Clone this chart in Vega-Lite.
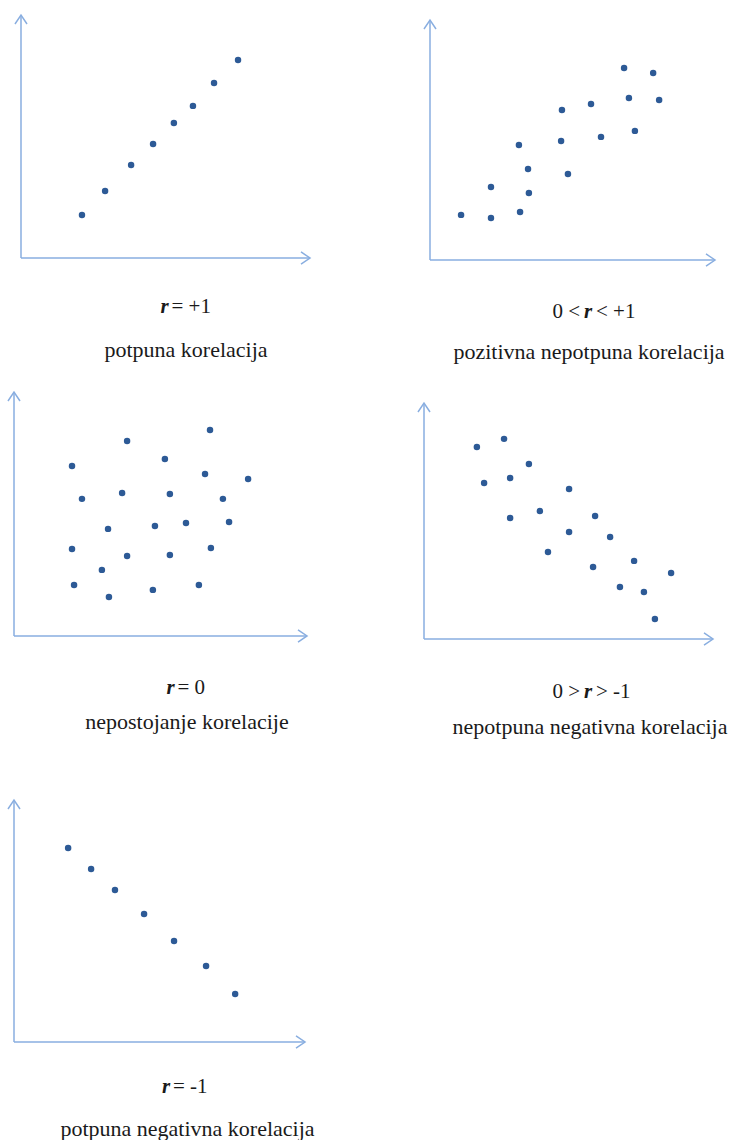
{
  "$schema": "https://vega.github.io/schema/vega-lite/v6.json",
  "background": "white",
  "padding": {"left": 4, "top": 5, "right": 0, "bottom": 0},
  "columns": 2,
  "spacing": {"row": 132, "column": 114},
  "bounds": "flush",
  "config": {
    "view": {"stroke": null},
    "text": {"font": "Liberation Serif", "fontSize": 21, "fill": "#1a1a1a", "baseline": "alphabetic"}
  },
  "datasets": {
    "one": [{}],
    "p1": [
      {"x": 2.11, "y": 1.77}, {"x": 2.91, "y": 2.76}, {"x": 3.81, "y": 3.83}, {"x": 4.57, "y": 4.69},
      {"x": 5.29, "y": 5.56}, {"x": 5.95, "y": 6.26}, {"x": 6.68, "y": 7.20}, {"x": 7.51, "y": 8.15}
    ],
    "p2": [
      {"x": 1.09, "y": 1.88}, {"x": 2.14, "y": 1.75}, {"x": 2.14, "y": 3.04}, {"x": 3.16, "y": 2.00},
      {"x": 3.47, "y": 2.79}, {"x": 3.44, "y": 3.79}, {"x": 3.12, "y": 4.79}, {"x": 4.60, "y": 4.96},
      {"x": 4.84, "y": 3.58}, {"x": 4.63, "y": 6.25}, {"x": 5.65, "y": 6.50}, {"x": 6.00, "y": 5.13},
      {"x": 6.81, "y": 8.00}, {"x": 6.98, "y": 6.75}, {"x": 7.19, "y": 5.38}, {"x": 7.83, "y": 7.79},
      {"x": 8.04, "y": 6.67}
    ],
    "p3": [
      {"x": 1.98, "y": 6.97}, {"x": 3.86, "y": 7.99}, {"x": 6.69, "y": 8.44}, {"x": 5.15, "y": 7.25},
      {"x": 6.52, "y": 6.64}, {"x": 7.99, "y": 6.43}, {"x": 2.32, "y": 5.62}, {"x": 3.69, "y": 5.86},
      {"x": 5.32, "y": 5.82}, {"x": 7.13, "y": 5.62}, {"x": 3.21, "y": 4.39}, {"x": 4.81, "y": 4.51},
      {"x": 5.87, "y": 4.63}, {"x": 7.34, "y": 4.67}, {"x": 1.98, "y": 3.57}, {"x": 3.86, "y": 3.28},
      {"x": 5.32, "y": 3.32}, {"x": 6.72, "y": 3.61}, {"x": 3.00, "y": 2.71}, {"x": 2.05, "y": 2.09},
      {"x": 3.24, "y": 1.60}, {"x": 4.74, "y": 1.89}, {"x": 6.31, "y": 2.09}
    ],
    "p4": [
      {"x": 1.83, "y": 8.14}, {"x": 2.77, "y": 8.48}, {"x": 3.63, "y": 7.42}, {"x": 2.08, "y": 6.61},
      {"x": 2.98, "y": 6.82}, {"x": 5.02, "y": 6.36}, {"x": 2.98, "y": 5.13}, {"x": 4.01, "y": 5.42},
      {"x": 5.92, "y": 5.21}, {"x": 5.02, "y": 4.53}, {"x": 6.44, "y": 4.32}, {"x": 4.29, "y": 3.69},
      {"x": 7.27, "y": 3.31}, {"x": 5.85, "y": 3.05}, {"x": 8.55, "y": 2.80}, {"x": 6.78, "y": 2.20},
      {"x": 7.61, "y": 1.99}, {"x": 7.99, "y": 0.85}
    ],
    "p5": [
      {"x": 1.86, "y": 8.02}, {"x": 2.65, "y": 7.15}, {"x": 3.47, "y": 6.28}, {"x": 4.47, "y": 5.29},
      {"x": 5.50, "y": 4.17}, {"x": 6.60, "y": 3.14}, {"x": 7.60, "y": 1.98}
    ]
  },
  "concat": [
    {
      "width": 306, "height": 255,
      "layer": [
        {"data": {"name": "p1"}, "mark": {"type": "point", "shape": "circle", "filled": true, "size": 42, "color": "#2d5a96", "opacity": 1},
         "encoding": {"x": {"field": "x", "type": "quantitative", "axis": null, "scale": {"domain": [-0.5882, 10], "nice": false, "zero": false}},
                      "y": {"field": "y", "type": "quantitative", "axis": null, "scale": {"domain": [-0.0823, 10.4115], "nice": false, "zero": false}}}},
        {"data": {"name": "one"}, "mark": {"type": "rule", "color": "#89aee0", "strokeWidth": 1.5},
         "encoding": {"x": {"datum": 0, "type": "quantitative", "axis": null}, "x2": {"datum": 10}, "y": {"datum": 0, "type": "quantitative", "axis": null}}},
        {"data": {"name": "one"}, "mark": {"type": "rule", "color": "#89aee0", "strokeWidth": 1.5},
         "encoding": {"x": {"datum": 0, "type": "quantitative", "axis": null}, "y": {"datum": 0, "type": "quantitative", "axis": null}, "y2": {"datum": 10}}},
        {"data": {"name": "one"}, "mark": {"type": "point", "shape": "M-1,-0.667L0,0L-1,0.667", "size": 324, "filled": false, "color": "#89aee0", "strokeWidth": 1.5, "opacity": 1},
         "encoding": {"x": {"datum": 10, "type": "quantitative", "axis": null}, "y": {"datum": 0, "type": "quantitative", "axis": null}}},
        {"data": {"name": "one"}, "mark": {"type": "point", "shape": "M-0.667,1L0,0L0.667,1", "size": 324, "filled": false, "color": "#89aee0", "strokeWidth": 1.5, "opacity": 1},
         "encoding": {"x": {"datum": 0, "type": "quantitative", "axis": null}, "y": {"datum": 10, "type": "quantitative", "axis": null}}},
        {"data": {"name": "one"}, "mark": {"type": "text", "text": "r", "fontStyle": "italic", "fontWeight": "bold", "align": "center"},
         "encoding": {"x": {"datum": 4.965, "type": "quantitative", "axis": null}, "y": {"datum": -2.263, "type": "quantitative", "axis": null}}},
        {"data": {"name": "one"}, "mark": {"type": "text", "text": "= +1", "align": "left", "dx": 7},
         "encoding": {"x": {"datum": 4.965, "type": "quantitative", "axis": null}, "y": {"datum": -2.263, "type": "quantitative", "axis": null}}},
        {"data": {"name": "one"}, "mark": {"type": "text", "text": "potpuna korelacija", "align": "center", "fontSize": 22},
         "encoding": {"x": {"datum": 5.709, "type": "quantitative", "axis": null}, "y": {"datum": -4.074, "type": "quantitative", "axis": null}}}
      ]
    },
    {
      "width": 291, "height": 255,
      "layer": [
        {"data": {"name": "p2"}, "mark": {"type": "point", "shape": "circle", "filled": true, "size": 42, "color": "#2d5a96", "opacity": 1},
         "encoding": {"x": {"field": "x", "type": "quantitative", "axis": null, "scale": {"domain": [-0.2105, 10], "nice": false, "zero": false}},
                      "y": {"field": "y", "type": "quantitative", "axis": null, "scale": {"domain": [0, 10.625], "nice": false, "zero": false}}}},
        {"data": {"name": "one"}, "mark": {"type": "rule", "color": "#89aee0", "strokeWidth": 1.5},
         "encoding": {"x": {"datum": 0, "type": "quantitative", "axis": null}, "x2": {"datum": 10}, "y": {"datum": 0, "type": "quantitative", "axis": null}}},
        {"data": {"name": "one"}, "mark": {"type": "rule", "color": "#89aee0", "strokeWidth": 1.5},
         "encoding": {"x": {"datum": 0, "type": "quantitative", "axis": null}, "y": {"datum": 0, "type": "quantitative", "axis": null}, "y2": {"datum": 10}}},
        {"data": {"name": "one"}, "mark": {"type": "point", "shape": "M-1,-0.667L0,0L-1,0.667", "size": 324, "filled": false, "color": "#89aee0", "strokeWidth": 1.5, "opacity": 1},
         "encoding": {"x": {"datum": 10, "type": "quantitative", "axis": null}, "y": {"datum": 0, "type": "quantitative", "axis": null}}},
        {"data": {"name": "one"}, "mark": {"type": "point", "shape": "M-0.667,1L0,0L0.667,1", "size": 324, "filled": false, "color": "#89aee0", "strokeWidth": 1.5, "opacity": 1},
         "encoding": {"x": {"datum": 0, "type": "quantitative", "axis": null}, "y": {"datum": 10, "type": "quantitative", "axis": null}}},
        {"data": {"name": "one"}, "mark": {"type": "text", "text": "0 <", "align": "right", "dx": -8},
         "encoding": {"x": {"datum": 5.544, "type": "quantitative", "axis": null}, "y": {"datum": -2.417, "type": "quantitative", "axis": null}}},
        {"data": {"name": "one"}, "mark": {"type": "text", "text": "r", "fontStyle": "italic", "fontWeight": "bold", "align": "center"},
         "encoding": {"x": {"datum": 5.544, "type": "quantitative", "axis": null}, "y": {"datum": -2.417, "type": "quantitative", "axis": null}}},
        {"data": {"name": "one"}, "mark": {"type": "text", "text": "< +1", "align": "left", "dx": 8},
         "encoding": {"x": {"datum": 5.544, "type": "quantitative", "axis": null}, "y": {"datum": -2.417, "type": "quantitative", "axis": null}}},
        {"data": {"name": "one"}, "mark": {"type": "text", "text": "pozitivna nepotpuna korelacija", "align": "center", "fontSize": 22},
         "encoding": {"x": {"datum": 5.579, "type": "quantitative", "axis": null}, "y": {"datum": -4.125, "type": "quantitative", "axis": null}}}
      ]
    },
    {
      "width": 306, "height": 247,
      "layer": [
        {"data": {"name": "p3"}, "mark": {"type": "point", "shape": "circle", "filled": true, "size": 42, "color": "#2d5a96", "opacity": 1},
         "encoding": {"x": {"field": "x", "type": "quantitative", "axis": null, "scale": {"domain": [-0.3413, 10.1024], "nice": false, "zero": false}},
                      "y": {"field": "y", "type": "quantitative", "axis": null, "scale": {"domain": [-0.123, 10], "nice": false, "zero": false}}}},
        {"data": {"name": "one"}, "mark": {"type": "rule", "color": "#89aee0", "strokeWidth": 1.5},
         "encoding": {"x": {"datum": 0, "type": "quantitative", "axis": null}, "x2": {"datum": 10}, "y": {"datum": 0, "type": "quantitative", "axis": null}}},
        {"data": {"name": "one"}, "mark": {"type": "rule", "color": "#89aee0", "strokeWidth": 1.5},
         "encoding": {"x": {"datum": 0, "type": "quantitative", "axis": null}, "y": {"datum": 0, "type": "quantitative", "axis": null}, "y2": {"datum": 10}}},
        {"data": {"name": "one"}, "mark": {"type": "point", "shape": "M-1,-0.667L0,0L-1,0.667", "size": 324, "filled": false, "color": "#89aee0", "strokeWidth": 1.5, "opacity": 1},
         "encoding": {"x": {"datum": 10, "type": "quantitative", "axis": null}, "y": {"datum": 0, "type": "quantitative", "axis": null}}},
        {"data": {"name": "one"}, "mark": {"type": "point", "shape": "M-0.667,1L0,0L0.667,1", "size": 324, "filled": false, "color": "#89aee0", "strokeWidth": 1.5, "opacity": 1},
         "encoding": {"x": {"datum": 0, "type": "quantitative", "axis": null}, "y": {"datum": 10, "type": "quantitative", "axis": null}}},
        {"data": {"name": "one"}, "mark": {"type": "text", "text": "r", "fontStyle": "italic", "fontWeight": "bold", "align": "center"},
         "encoding": {"x": {"datum": 5.341, "type": "quantitative", "axis": null}, "y": {"datum": -2.377, "type": "quantitative", "axis": null}}},
        {"data": {"name": "one"}, "mark": {"type": "text", "text": "= 0", "align": "left", "dx": 7},
         "encoding": {"x": {"datum": 5.341, "type": "quantitative", "axis": null}, "y": {"datum": -2.377, "type": "quantitative", "axis": null}}},
        {"data": {"name": "one"}, "mark": {"type": "text", "text": "nepostojanje korelacije", "align": "center", "fontSize": 22},
         "encoding": {"x": {"datum": 5.904, "type": "quantitative", "axis": null}, "y": {"datum": -3.811, "type": "quantitative", "axis": null}}}
      ]
    },
    {
      "width": 291, "height": 247,
      "layer": [
        {"data": {"name": "p4"}, "mark": {"type": "point", "shape": "circle", "filled": true, "size": 42, "color": "#2d5a96", "opacity": 1},
         "encoding": {"x": {"field": "x", "type": "quantitative", "axis": null, "scale": {"domain": [0, 10.0692], "nice": false, "zero": false}},
                      "y": {"field": "y", "type": "quantitative", "axis": null, "scale": {"domain": [0, 10.4661], "nice": false, "zero": false}}}},
        {"data": {"name": "one"}, "mark": {"type": "rule", "color": "#89aee0", "strokeWidth": 1.5},
         "encoding": {"x": {"datum": 0, "type": "quantitative", "axis": null}, "x2": {"datum": 10}, "y": {"datum": 0, "type": "quantitative", "axis": null}}},
        {"data": {"name": "one"}, "mark": {"type": "rule", "color": "#89aee0", "strokeWidth": 1.5},
         "encoding": {"x": {"datum": 0, "type": "quantitative", "axis": null}, "y": {"datum": 0, "type": "quantitative", "axis": null}, "y2": {"datum": 10}}},
        {"data": {"name": "one"}, "mark": {"type": "point", "shape": "M-1,-0.667L0,0L-1,0.667", "size": 324, "filled": false, "color": "#89aee0", "strokeWidth": 1.5, "opacity": 1},
         "encoding": {"x": {"datum": 10, "type": "quantitative", "axis": null}, "y": {"datum": 0, "type": "quantitative", "axis": null}}},
        {"data": {"name": "one"}, "mark": {"type": "point", "shape": "M-0.667,1L0,0L0.667,1", "size": 324, "filled": false, "color": "#89aee0", "strokeWidth": 1.5, "opacity": 1},
         "encoding": {"x": {"datum": 0, "type": "quantitative", "axis": null}, "y": {"datum": 10, "type": "quantitative", "axis": null}}},
        {"data": {"name": "one"}, "mark": {"type": "text", "text": "0 >", "align": "right", "dx": -8},
         "encoding": {"x": {"datum": 5.675, "type": "quantitative", "axis": null}, "y": {"datum": -2.5, "type": "quantitative", "axis": null}}},
        {"data": {"name": "one"}, "mark": {"type": "text", "text": "r", "fontStyle": "italic", "fontWeight": "bold", "align": "center"},
         "encoding": {"x": {"datum": 5.675, "type": "quantitative", "axis": null}, "y": {"datum": -2.5, "type": "quantitative", "axis": null}}},
        {"data": {"name": "one"}, "mark": {"type": "text", "text": "> -1", "align": "left", "dx": 8},
         "encoding": {"x": {"datum": 5.675, "type": "quantitative", "axis": null}, "y": {"datum": -2.5, "type": "quantitative", "axis": null}}},
        {"data": {"name": "one"}, "mark": {"type": "text", "text": "nepotpuna negativna korelacija", "align": "center", "fontSize": 22},
         "encoding": {"x": {"datum": 5.744, "type": "quantitative", "axis": null}, "y": {"datum": -4.025, "type": "quantitative", "axis": null}}}
      ]
    },
    {
      "width": 306, "height": 271,
      "layer": [
        {"data": {"name": "p5"}, "mark": {"type": "point", "shape": "circle", "filled": true, "size": 42, "color": "#2d5a96", "opacity": 1},
         "encoding": {"x": {"field": "x", "type": "quantitative", "axis": null, "scale": {"domain": [-0.3436, 10.1718], "nice": false, "zero": false}},
                      "y": {"field": "y", "type": "quantitative", "axis": null, "scale": {"domain": [0, 11.1983], "nice": false, "zero": false}}}},
        {"data": {"name": "one"}, "mark": {"type": "rule", "color": "#89aee0", "strokeWidth": 1.5},
         "encoding": {"x": {"datum": 0, "type": "quantitative", "axis": null}, "x2": {"datum": 10}, "y": {"datum": 0, "type": "quantitative", "axis": null}}},
        {"data": {"name": "one"}, "mark": {"type": "rule", "color": "#89aee0", "strokeWidth": 1.5},
         "encoding": {"x": {"datum": 0, "type": "quantitative", "axis": null}, "y": {"datum": 0, "type": "quantitative", "axis": null}, "y2": {"datum": 10}}},
        {"data": {"name": "one"}, "mark": {"type": "point", "shape": "M-1,-0.667L0,0L-1,0.667", "size": 324, "filled": false, "color": "#89aee0", "strokeWidth": 1.5, "opacity": 1},
         "encoding": {"x": {"datum": 10, "type": "quantitative", "axis": null}, "y": {"datum": 0, "type": "quantitative", "axis": null}}},
        {"data": {"name": "one"}, "mark": {"type": "point", "shape": "M-0.667,1L0,0L0.667,1", "size": 324, "filled": false, "color": "#89aee0", "strokeWidth": 1.5, "opacity": 1},
         "encoding": {"x": {"datum": 0, "type": "quantitative", "axis": null}, "y": {"datum": 10, "type": "quantitative", "axis": null}}},
        {"data": {"name": "one"}, "mark": {"type": "text", "text": "r", "fontStyle": "italic", "fontWeight": "bold", "align": "center"},
         "encoding": {"x": {"datum": 5.223, "type": "quantitative", "axis": null}, "y": {"datum": -2.107, "type": "quantitative", "axis": null}}},
        {"data": {"name": "one"}, "mark": {"type": "text", "text": "= -1", "align": "left", "dx": 7},
         "encoding": {"x": {"datum": 5.223, "type": "quantitative", "axis": null}, "y": {"datum": -2.107, "type": "quantitative", "axis": null}}},
        {"data": {"name": "one"}, "mark": {"type": "text", "text": "potpuna negativna korelacija", "align": "center", "fontSize": 22},
         "encoding": {"x": {"datum": 5.962, "type": "quantitative", "axis": null}, "y": {"datum": -3.884, "type": "quantitative", "axis": null}}}
      ]
    }
  ]
}
